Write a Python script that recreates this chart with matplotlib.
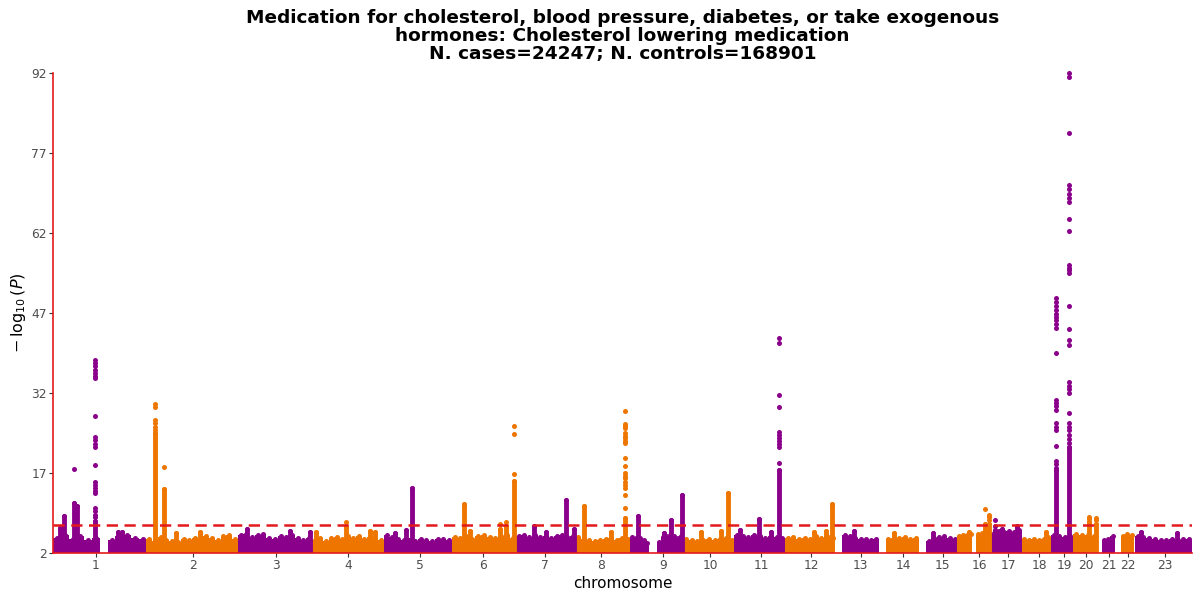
import matplotlib
matplotlib.use("Agg")
import matplotlib.pyplot as plt
import numpy as np

# === Chromosomes (GRCh37 lengths, Mb) ===
chrom_labels = [str(i) for i in range(1, 24)]
chrom_len = [249, 243, 198, 191, 181, 171, 159, 146, 141, 136, 135, 134,
             115, 107, 103, 90, 81, 78, 59, 63, 48, 51, 155]
# first typed position on each chromosome (Mb)
chrom_first = [0.7, 0, 0, 0, 0, 0, 0, 0, 0, 0, 0, 0,
               19, 19, 20, 0, 0, 0, 0, 0, 14.5, 16, 2.7]
# where the axis label of each chromosome sits (Mb into the chromosome)
tick_mb = [114.5, 124, 102, 96, 96.5, 83.5, 77.5, 67.5, 87, 71, 71, 69,
           68, 65, 64.5, 57.5, 45, 46.5, 35, 34.5, 33, 35.5, 83]

# top of the dense background band, evenly spaced windows per chromosome
# (2.0 = no SNPs in that window)
band_top = [
    [4.9, 5.3, 4.6, 5.1, 4.5, 4.8, 2.0, 4.4, 5.2, 5.4, 4.9, 4.6],
    [4.6, 4.3, 5.0, 4.5, 4.2, 4.0, 4.7, 4.4, 4.9, 4.6, 5.2, 4.8, 4.5, 5.1, 5.3, 4.7],
    [5.4, 5.6, 5.0, 5.3, 5.5, 4.8, 4.6, 5.1, 5.0, 5.4, 4.8, 4.5, 4.9],
    [4.5, 4.8, 4.3, 4.9, 5.0, 4.6, 5.2, 4.8, 5.1, 4.6, 5.0, 4.7, 4.5],
    [5.3, 5.0, 4.7, 4.5, 4.4, 4.3, 4.7, 4.4, 4.3, 4.6, 4.7, 4.4],
    [5.0, 4.8, 5.2, 4.7, 5.1, 5.3, 5.0, 4.8, 5.2, 5.4, 4.9],
    [5.2, 5.4, 5.0, 5.3, 5.0, 5.2, 4.9, 5.1, 5.4, 5.0, 5.2],
    [5.0, 4.6, 4.5, 4.3, 4.5, 4.7, 4.9, 4.5, 4.8, 4.6],
    [5.0, 4.8, 4.9, 4.5, 3.8, 2.0, 2.0, 4.0, 5.0, 5.2, 5.4, 5.1, 4.9, 5.2],
    [4.6, 4.4, 4.2, 4.5, 4.7, 4.4, 4.6, 4.9, 4.5],
    [5.4, 5.2, 5.0, 5.3, 5.1, 4.9, 5.2, 5.0, 4.8],
    [4.8, 5.0, 4.7, 4.9, 4.6, 5.1, 4.9, 5.2, 4.8],
    [5.4, 5.2, 4.9, 4.7, 4.6, 4.5, 4.6],
    [4.7, 4.9, 4.8, 5.0, 4.6, 4.8],
    [4.3, 4.8, 5.0, 5.2, 4.9, 4.7],
    [5.2, 5.4, 5.3, 5.6, 2.0, 5.5, 5.7, 5.4, 5.6],
    [5.8, 6.1, 5.9, 6.2, 6.0, 6.3],
    [4.7, 4.5, 4.6, 4.4, 4.7, 5.0],
    [5.3, 5.1, 5.0, 5.2],
    [5.6, 5.3, 5.4, 5.2],
    [4.4, 4.7, 5.2],
    [5.2, 5.5, 5.3],
    [5.1, 5.0, 4.8, 4.6, 4.5, 4.4, 4.6, 4.5, 4.7, 4.6],
]

# loci standing out of the band: chromosome, position (Mb),
# top of the solid column of points, separate points above it
peak_chr = [1, 1, 1, 1, 1, 1, 1,
            2, 2, 2, 2,
            3, 3, 3,
            4, 4, 4, 4,
            5, 5, 5,
            6, 6, 6, 6, 6,
            7, 7, 7, 7,
            8, 8, 8,
            9, 9, 9, 9,
            10, 10, 10,
            11, 11, 11, 11,
            12, 12, 12,
            13, 14, 15,
            16, 16, 16,
            17, 17, 17,
            18,
            19, 19,
            20, 20,
            23, 23]
peak_mb = [19, 29, 55.5, 63, 112, 173, 184,
           23, 47, 79, 143,
           25.5, 140, 193.5,
           11.5, 91.5, 155.6, 169,
           31, 58, 76.6,
           34, 50, 130, 143.7, 165,
           47, 79, 132.7, 156,
           21.7, 94, 131,
           19.8, 89, 107.8, 138,
           47, 100, 119,
           15, 65.5, 97.5, 118.9,
           77, 109, 125,
           50, 41.6, 38.6,
           31.7, 74, 85,
           11, 29.7, 69.7,
           66,
           13, 48,
           43.8, 61,
           20, 114]
peak_top = [6.7, 8.9, 11.3, 10.9, 8.0, 5.9, 6.0,
            24.5, 14.0, 5.8, 6.0,
            6.5, 6.1, 6.0,
            5.9, 6.8, 6.2, 5.9,
            5.8, 6.4, 14.2,
            11.2, 6.1, 6.5, 7.0, 15.5,
            7.1, 6.0, 12.0, 6.5,
            10.8, 5.9, 8.6,
            9.0, 5.8, 8.2, 12.9,
            5.9, 6.1, 13.2,
            6.4, 8.4, 6.0, 17.6,
            6.0, 6.1, 11.1,
            6.2, 5.8, 5.8,
            6.0, 7.4, 7.5,
            6.3, 6.5, 7.0,
            5.9,
            17.5, 21.9,
            7.8, 7.5,
            5.9, 5.8]
peak_extra = [[], [], [17.7], [],
              [38.2, 37.6, 37.0, 36.4, 35.8, 35.2, 34.8, 27.7, 23.8, 23.2, 22.5,
               21.9, 18.5, 15.4, 14.8, 14.2, 13.6, 13.2, 10.4, 9.8, 9.2, 8.7],
              [], [],
              [29.9, 29.4, 26.9, 26.3, 25.7, 25.1], [18.2], [], [],
              [], [], [],
              [], [7.8], [], [],
              [], [], [],
              [], [], [7.4], [7.8], [16.75, 24.3, 25.9],
              [], [], [], [],
              [], [],
              [28.6, 26.2, 25.8, 25.4, 24.5, 24.0, 23.5, 23.0, 22.6, 19.9, 18.4,
               17.0, 16.5, 16.0, 15.4, 14.8, 14.2, 12.9, 10.5],
              [], [], [], [],
              [], [], [],
              [], [], [],
              [42.25, 41.3, 31.6, 29.4, 24.75, 24.2, 23.6, 23.0, 22.4, 21.9, 18.8],
              [], [], [],
              [], [], [],
              [], [10.2], [8.2, 8.7, 9.1],
              [7.0, 8.1], [], [],
              [],
              [49.9, 49.0, 48.3, 47.6, 46.9, 46.3, 45.6, 44.9, 44.2, 39.5, 30.7,
               30.1, 29.5, 28.8, 26.4, 25.7, 25.1, 22.0, 19.3, 18.6, 18.0],
              [92.0, 91.2, 80.8, 71.0, 70.2, 69.4, 68.6, 67.9, 64.6, 62.3, 56.0,
               55.5, 55.0, 54.5, 48.4, 44.0, 42.0, 41.0, 34.1, 33.4, 32.7, 32.0,
               28.2, 26.4, 25.7, 25.0, 24.2, 23.4, 22.6],
              [8.4, 8.8], [8.2, 8.6],
              [], []]

threshold = -np.log10(5e-8)
title = ("Medication for cholesterol, blood pressure, diabetes, or take exogenous\n"
         "hormones: Cholesterol lowering medication\n"
         "N. cases=24247; N. controls=168901")

colors = ['#8B008B', '#EE7600']
red = '#E3191C'
dot_s = 13

# === Plot ===
fig = plt.figure(figsize=(12, 6), dpi=100)
ax = fig.add_axes([53 / 1200, 47 / 600, 1139 / 1200, 480 / 600])

offset = np.concatenate([[0], np.cumsum(chrom_len)[:-1]])

for i, tops in enumerate(band_top):
    col = colors[i % 2]
    tops = np.array(tops)
    edges = np.linspace(chrom_first[i], chrom_len[i], len(tops) + 1) + offset[i]
    centers = (edges[:-1] + edges[1:]) / 2
    ax.bar(centers, tops - 2, bottom=2, width=np.diff(edges), color=col,
           linewidth=0, zorder=2)
    keep = tops > 2
    ax.scatter(centers[keep], tops[keep], s=dot_s, color=col, linewidths=0, zorder=2)

for c, mb, top, extra in zip(peak_chr, peak_mb, peak_top, peak_extra):
    col = colors[(c - 1) % 2]
    x = offset[c - 1] + mb
    ax.vlines(x, 2, top, color=col, linewidth=3.5, capstyle='round', zorder=3)
    ys = [top] + extra
    ax.scatter([x] * len(ys), ys, s=dot_s, color=col, linewidths=0, zorder=3,
               clip_on=False)

ax.axhline(threshold, color=red, linewidth=1.8, dashes=(4.5, 2.6), zorder=5)

ax.set_xlim(0, sum(chrom_len))
ax.set_ylim(2, 92)
ax.set_yticks([2, 17, 32, 47, 62, 77, 92])
ax.set_xticks(offset + np.array(tick_mb))
ax.set_xticklabels(chrom_labels)

for side in ['top', 'right']:
    ax.spines[side].set_visible(False)
for side in ['left', 'bottom']:
    ax.spines[side].set_color(red)
    ax.spines[side].set_linewidth(1.2)
    ax.spines[side].set_zorder(6)
ax.tick_params(axis='both', colors='#333333', labelcolor='#4D4D4D',
               labelsize=8.8, length=3, width=0.8, pad=1.5)

ax.set_xlabel('chromosome', fontsize=11, labelpad=3)
ax.set_ylabel(r'$-\,\log_{10}(P)$', fontsize=11.5, labelpad=2.5)
ax.set_title(title, fontsize=13.3, fontweight='bold', linespacing=1.02, pad=10)

fig.savefig('out.png', dpi=100)
